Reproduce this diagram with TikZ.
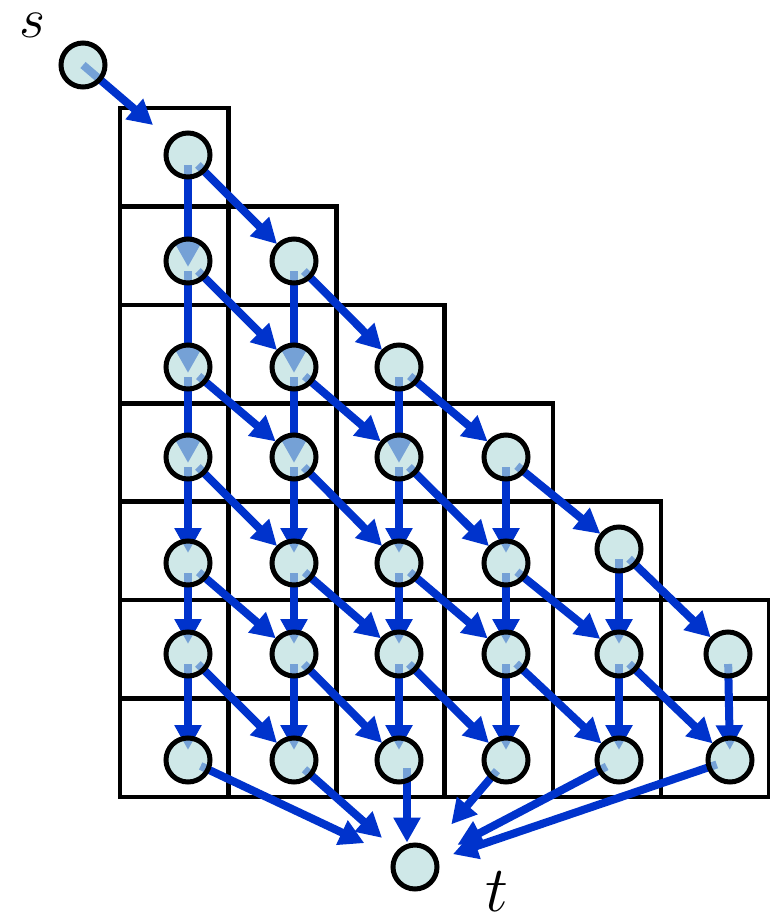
\documentclass[tikz,border=0pt]{standalone}
\usepackage{fix-cm}
\usepackage{amsmath,amssymb}
\usepackage{tikz}
\usetikzlibrary{arrows.meta, backgrounds}

\definecolor{kantenblau}{HTML}{0033CC}
\definecolor{knotenfarbe}{HTML}{B5DCDC}

\begin{document}
\begin{tikzpicture}[x=0.25mm, y=-0.25mm,
		knoten/.style={circle, draw=black, line width=1.25mm, fill=knotenfarbe, fill opacity=0.65, minimum size=11mm, inner sep=0pt},
		kante/.style={draw=kantenblau, line width=2mm, -{Triangle[length=6.2mm, width=6.4mm]}},
		kasten/.style={draw=black, line width=1.15mm}]
			\useasboundingbox (0,0) rectangle (770,919);
			
			% Knoten
			\node[knoten] (s) at (83,65) {};
			\foreach \n/\x/\y in {00/188/155,
				10/188/261, 11/294/261,
				20/188/367, 21/294/367, 22/399/367,
				30/188/457, 31/294/457, 32/399/457, 33/506/457,
				40/188/563, 41/294/563, 42/399/563, 43/506/563, 44/619/549,
				50/188/654, 51/294/654, 52/399/654, 53/506/654, 54/619/654, 55/728/654,
				60/188/760, 61/294/760, 62/399/760, 63/506/760, 64/619/760, 65/730/760}
				\node[knoten] (v\n) at (\x,\y) {};
			\node[knoten] (t) at (415,867) {};
			
			% Beschriftung
			\node[font=\fontsize{40}{44}\selectfont, inner sep=0pt] (ls) at (32,25) {$s$};
			\node[font=\fontsize{46}{50}\selectfont, inner sep=0pt] (lt) at (497,892) {$t$};
			
			\begin{scope}[on background layer]
				% Kaestchen
				\foreach \r in {0,...,6} {
					\pgfmathtruncatemacro\m{min(\r,5)}
					\foreach \c in {0,...,\m}
						\draw[kasten] ({120+108.2*\c},{108+98.4*\r}) rectangle ++(108.2,98.4);
				}
				
				% Kanten
				\draw[kante, shorten >=11.5mm] (s.center) -- (v00.center);
				\foreach \r in {0,...,5} {
					\pgfmathtruncatemacro\n{\r+1}
					\pgfmathsetmacro\e{\n<4 ? -1.5 : 2.5}
					\foreach \c in {0,...,\r} {
						\pgfmathtruncatemacro\d{\c+1}
						\draw[kante, shorten <=2.5mm, shorten >=\e mm] (v\r\c.center) -- (v\n\c.center);
						\ifnum\d<6
							\draw[kante, shorten <=3.5mm, shorten >=6mm] (v\r\c.center) -- (v\n\d.center);
						\fi
					}
				}
				\foreach \c/\k in {0/14, 1/11, 3/14, 4/12, 5/10}
					\draw[kante, shorten <=3.5mm, shorten >=\k mm] (v6\c.center) -- (t.center);
				\draw[kante, shorten <=2mm] ([xshift=2mm]v62.center) -- ([xshift=2mm]v62.center |- t.north);
			\end{scope}
		\end{tikzpicture}
\end{document}
